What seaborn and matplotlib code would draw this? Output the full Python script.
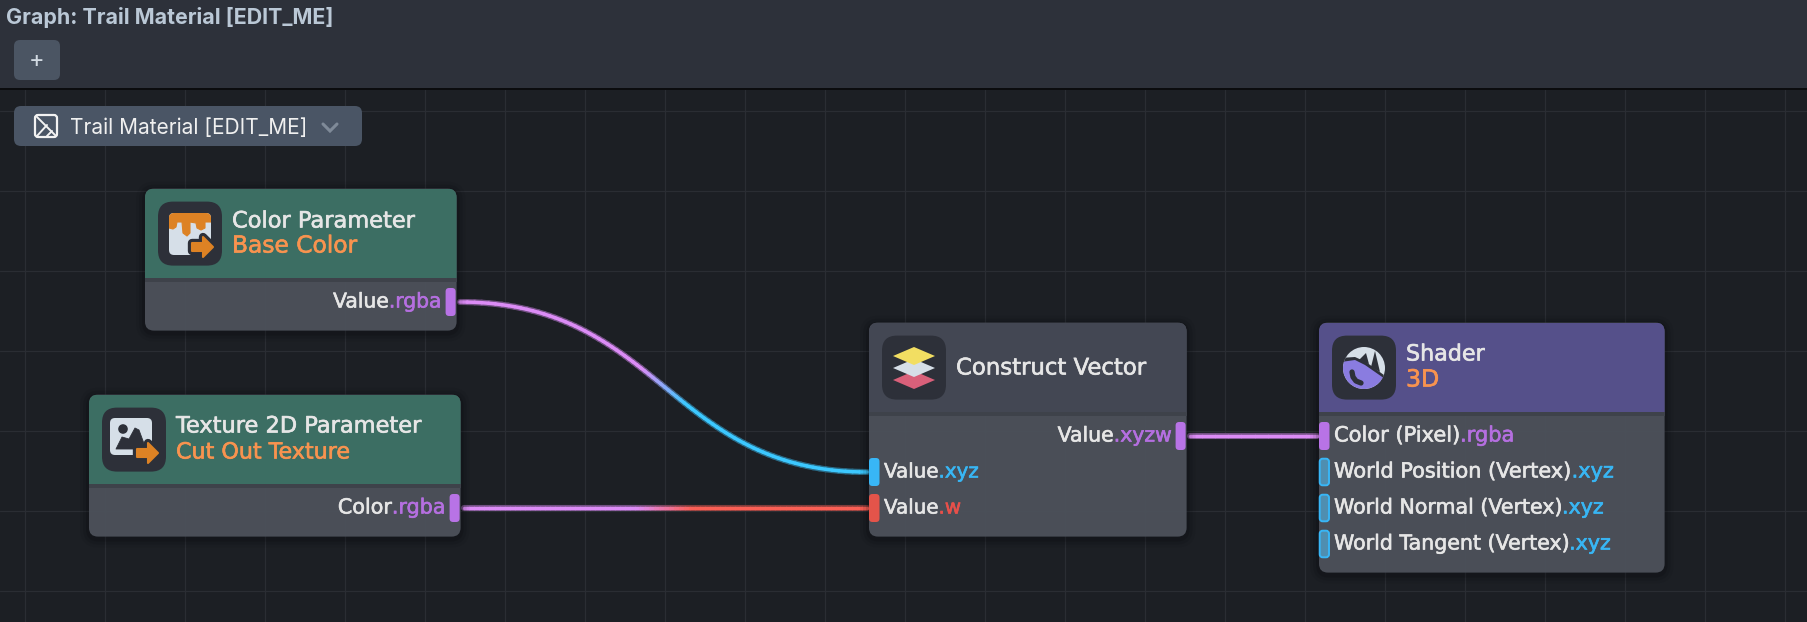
import numpy as np
import pandas as pd
import matplotlib
matplotlib.use("Agg")
import matplotlib.pyplot as plt
import matplotlib.patheffects as pe
import seaborn as sns
from matplotlib.bezier import BezierSegment
from matplotlib.patches import FancyBboxPatch, Rectangle, Polygon, Circle

# text of the graph
GRAPH_TITLE = "Graph: Trail Material [EDIT_ME]"
MATERIAL_NAME = "Trail Material [EDIT_ME]"
NODE_TITLES = ["Color Parameter", "Texture 2D Parameter", "Construct Vector", "Shader"]
NODE_SUBTITLES = ["Base Color", "Cut Out Texture", "", "3D"]
OUTPUT_PORTS = [("Value", ".rgba"), ("Color", ".rgba"), ("Value", ".xyzw"), None]
INPUT_PORTS = [
    [],
    [],
    [("Value", ".xyz"), ("Value", ".w")],
    [("Color (Pixel)", ".rgba"), ("World Position (Vertex)", ".xyz"),
     ("World Normal (Vertex)", ".xyz"), ("World Tangent (Vertex)", ".xyz")],
]

# colours
CANVAS = "#1c1f24"
TOPBAR = "#2d313a"
BODY = "#4c515a"
SEPARATOR = "#3e424a"
ICON_BG = "#2d3039"
LIGHT = "#d6dfe8"
ORANGE = "#dd8224"
SUB_ORANGE = "#f8934f"
PURPLE = "#b873e6"
BLUE = "#38b6f6"
RED = "#e4544a"
TEXT_COL = "#e6e6e6"
SWIZZLE_COL = {".rgba": "#b56fe0", ".xyzw": "#b56fe0", ".xyz": "#38b6f4", ".w": "#e8504a"}
PORT_COL = {".rgba": PURPLE, ".xyzw": PURPLE, ".xyz": BLUE, ".w": RED}
HEADER_COL = ["#3c6e63", "#3c6e63", "#434753", "#55508a"]

# layout in screenshot pixels: left, top, right, bottom, header bottom
NODE_BOXES = [(145, 188.6, 456.6, 330.6, 278), (89, 394.6, 460.6, 536.6, 484),
              (869, 322.6, 1186.6, 536.6, 412), (1319, 322.6, 1664.6, 572.6, 412)]
TITLE_BASE = [227.5, 432.5, 374.5, 360.5]
SUB_BASE = [252.5, 458.5, None, 386.5]
OUT_PORT_Y = [302, 508, 436, None]
IN_PORT_Y = [[], [], [472, 508], [436, 472, 508, 544]]
# the screenshot letter-spaces its labels, so sizes are set per label to keep the widths
TITLE_PT = [16.2, 16.2, 16.4, 16.0]
SUB_PT = [16.8, 16.0, None, 17.0]
OUT_PT = [14.6, 14.9, 14.7, None]
IN_PT = [[], [], [14.3, 14.3], [15.1, 15.0, 14.8, 14.8]]

sns.set_theme(style="dark", rc={
    "axes.facecolor": CANVAS, "figure.facecolor": CANVAS,
    "grid.color": "#2a2d33", "grid.linewidth": 0.9,
    "axes.axisbelow": True, "font.family": ["DejaVu Sans"],
})

fig, ax = plt.subplots(figsize=(18.08, 6.22), dpi=100)
ax.set_position([0, 0, 1, 1])
for side in ax.spines.values():
    side.set_visible(False)


def rounded(x0, y0, x1, y1, r, **kw):
    p = FancyBboxPatch((x0 + r, y0 + r), x1 - x0 - 2 * r, y1 - y0 - 2 * r,
                       boxstyle=f"round,pad={r},rounding_size={r}", linewidth=kw.pop("lw", 0), **kw)
    ax.add_patch(p)
    return p


def text_width(t):
    return t.get_window_extent(fig.canvas.get_renderer()).width


def label(x, y, s, col, size, ha="left"):
    # thin stroke to get the medium weight of the original font
    return ax.text(x, y, s, color=col, fontsize=size, ha=ha, va="baseline", zorder=8,
                   path_effects=[pe.withStroke(linewidth=0.45, foreground=col)])


def draw_wire(ctrl, colours, core_colours, z=2):
    # each little segment gets its own hue level so the colour can run along the wire
    pts = BezierSegment(np.array(ctrl, dtype=float))(np.linspace(0, 1, len(colours) + 1))
    rows = []
    for i in range(len(colours)):
        rows.append((pts[i, 0], pts[i, 1], i))
        rows.append((pts[i + 1, 0], pts[i + 1, 1], i))
    df = pd.DataFrame(rows, columns=["x", "y", "seg"])
    for pal, lw, zz in [(colours, 4.4, z), (core_colours, 2.5, z + 0.1)]:
        sns.lineplot(data=df, x="x", y="y", hue="seg", palette=pal, sort=False, estimator=None,
                     legend=False, linewidth=lw, zorder=zz, ax=ax, solid_capstyle="round")


def wire_palettes(c0, c1, n=80):
    stops0 = [c0] * 4 + [c1] * 4
    core = sns.blend_palette(stops0, n)
    glow = [tuple(v * 0.45 + w * 0.55 for v, w in zip(c, matplotlib.colors.to_rgb(CANVAS))) for c in core]
    return glow, core


# the three connections
glow, core = wire_palettes("#dc8cf6", "#3cc8ff")
draw_wire([(460, 302), (660, 302), (670, 472), (867, 472)], glow, core)
glow, core = wire_palettes("#dc8cf6", "#fb5f55")
draw_wire([(464, 508), (600, 508), (730, 508), (867, 508)], glow, core)
glow, core = wire_palettes("#dc8cf6", "#dc8cf6", 10)
draw_wire([(1190, 436), (1230, 436), (1280, 436), (1317, 436)], glow, core)


def arrow(cx, cy):
    # little orange arrow in the corner of the parameter icons
    pts = [(cx - 11, cy - 4), (cx, cy - 4), (cx, cy - 10), (cx + 10, cy), (cx, cy + 10), (cx, cy + 4), (cx - 11, cy + 4)]
    ax.add_patch(Polygon(pts, closed=True, fc=ICON_BG, ec=ICON_BG, lw=6, joinstyle="round", zorder=7))
    ax.add_patch(Polygon(pts, closed=True, fc=ORANGE, ec=ORANGE, lw=1.5, joinstyle="round", zorder=7.1))


def paint_icon():
    base = rounded(169, 213, 211, 255, 5, fc=LIGHT, zorder=6)
    drips = [(169, 212), (169, 228), (173, 229), (176, 227), (177, 222), (182, 222), (183, 233), (187, 236),
             (190, 233), (190, 222), (196, 223), (197, 228), (201, 230), (205, 228), (205, 222), (212, 222), (212, 212)]
    d = Polygon(drips, closed=True, fc=ORANGE, ec=ORANGE, lw=0.8, joinstyle="round", zorder=6.2)
    ax.add_patch(d)
    d.set_clip_path(base)
    arrow(203, 247)


def image_icon():
    rounded(110, 418, 152, 455, 5, fc=LIGHT, zorder=6)
    ax.add_patch(Circle((123, 429), 4.8, fc=ICON_BG, lw=0, zorder=6.2))
    peak = [(116, 449), (122, 437), (129, 439), (135, 428), (139, 430), (146, 449)]
    ax.add_patch(Polygon(peak, closed=True, fc=ICON_BG, ec=ICON_BG, lw=0.6, joinstyle="round", zorder=6.2))
    arrow(148, 453)


def stack_icon():
    for cy, col, z in [(380, "#d9607a", 6.1), (368, LIGHT, 6.2), (356, "#f2de62", 6.3)]:
        ax.add_patch(Polygon([(893, cy), (914, cy - 9), (935, cy), (914, cy + 9)], closed=True, fc=col, lw=0, zorder=z))


def shader_icon():
    disc = Circle((1364, 368), 21, fc=LIGHT, lw=0, zorder=6)
    ax.add_patch(disc)
    for teeth in [[(1358, 361), (1366, 353), (1369, 364)], [(1371, 367), (1375, 351), (1380, 372)]]:
        t = Polygon(teeth, closed=True, fc=ICON_BG, lw=0, zorder=6.1)
        ax.add_patch(t)
        t.set_clip_path(disc)
    band = Polygon([(1340, 358), (1355, 357), (1366, 362), (1388, 378), (1388, 382), (1340, 362)], closed=True, fc=ICON_BG, lw=0, zorder=6.15)
    ax.add_patch(band)
    band.set_clip_path(disc)
    belly = Polygon([(1341, 362), (1355, 360), (1365, 365), (1388, 381), (1388, 394), (1340, 394)], closed=True, fc="#8a7ce0", lw=0, zorder=6.2)
    ax.add_patch(belly)
    belly.set_clip_path(disc)
    ax.plot([1352, 1353, 1356, 1361], [372, 377, 381, 383], color=ICON_BG, lw=3.8, solid_capstyle="round", zorder=6.3)


ICONS = [paint_icon, image_icon, stack_icon, shader_icon]


def port_label(x, base, name, swizzle, size, right=False):
    col = SWIZZLE_COL[swizzle]
    if right:
        t = label(x, base, swizzle, col, size, ha="right")
        label(x - text_width(t), base, name, TEXT_COL, size, ha="right")
    else:
        t = label(x, base, name, TEXT_COL, size)
        label(x + text_width(t), base, swizzle, col, size)


# nodes
for i, (x0, y0, x1, y1, yh) in enumerate(NODE_BOXES):
    for grow, alpha in [(9, 0.05), (6, 0.08), (3, 0.12)]:
        rounded(x0 - grow, y0 - grow + 2, x1 + grow, y1 + grow + 2, 10 + grow, fc="black", alpha=alpha, zorder=3)
    shape = rounded(x0, y0, x1, y1, 9, fc=BODY, alpha=0.97, zorder=4)
    h = Rectangle((x0, y0), x1 - x0, yh - y0, fc=HEADER_COL[i], lw=0, zorder=4.2)
    ax.add_patch(h)
    h.set_clip_path(shape)
    ax.add_patch(Rectangle((x0, yh), x1 - x0, 4, fc=SEPARATOR, lw=0, zorder=4.3))
    rounded(x0 + 13, y0 + 13, x0 + 77, y0 + 77, 15, fc=ICON_BG, zorder=5)
    ICONS[i]()
    label(x0 + 87, TITLE_BASE[i], NODE_TITLES[i], TEXT_COL, TITLE_PT[i])
    if NODE_SUBTITLES[i]:
        label(x0 + 87, SUB_BASE[i], NODE_SUBTITLES[i], SUB_ORANGE, SUB_PT[i])
    if OUTPUT_PORTS[i]:
        name, sw = OUTPUT_PORTS[i]
        py = OUT_PORT_Y[i]
        rounded(x1 - 11, py - 14, x1 - 1, py + 14, 3.5, fc=PORT_COL[sw], zorder=6)
        port_label(x1 - 15, py + 5.5, name, sw, OUT_PT[i], right=True)
    for (name, sw), py, size in zip(INPUT_PORTS[i], IN_PORT_Y[i], IN_PT[i]):
        # unconnected inputs are drawn hollow
        connected = not (i == 3 and py != 436)
        if connected:
            rounded(x0, py - 14, x0 + 10.5, py + 14, 3.5, fc=PORT_COL[sw], zorder=6)
        else:
            rounded(x0 + 0.7, py - 13.3, x0 + 10, py + 13.3, 3, fc="#4f8eb0", ec=BLUE, lw=1.4, zorder=6)
        port_label(x0 + 15, py + 5.5, name, sw, size)

# toolbar along the top
ax.add_patch(Rectangle((0, 0), 1808, 88, fc=TOPBAR, lw=0, zorder=9))
ax.add_patch(Rectangle((0, 88), 1808, 2, fc="#0b0c0e", lw=0, zorder=9))
ax.text(6, 23.5, GRAPH_TITLE, color="#bac8d6", fontsize=15.4, fontweight="bold", family="Inter", va="baseline", zorder=10)
rounded(14, 40, 60, 80, 6, fc="#4b5563", zorder=10)
ax.text(37, 61, "+", color="#d2dae2", fontsize=17, family="Inter", ha="center", va="center", zorder=11)

# material dropdown
rounded(14, 106, 362, 146, 7, fc="#4a5565", zorder=10)
rounded(35, 115, 57, 137, 3, fc="none", ec="#f2f2f2", lw=1.6, zorder=11)
ax.plot([36, 56], [116, 136], color="#f2f2f2", lw=1.4, zorder=11)
ax.plot([37, 47], [136, 125], color="#f2f2f2", lw=1.4, zorder=11)
ax.plot([47, 52], [136, 131], color="#f2f2f2", lw=1.4, zorder=11)
ax.text(70, 134, MATERIAL_NAME, color="#f0f0f0", fontsize=15, family="Inter", va="baseline", zorder=11)
ax.plot([323, 330, 337], [124, 131, 124], color="#7f8a98", lw=2.2, solid_joinstyle="miter", zorder=11)

ax.set_xticks(np.arange(25, 1808, 80))
ax.set_yticks(np.arange(111, 622, 80))
ax.grid(True)
ax.tick_params(length=0, labelbottom=False, labelleft=False)
ax.set(xlim=(0, 1808), ylim=(622, 0), xlabel="", ylabel="")

fig.savefig("out.png", dpi=100, facecolor=CANVAS)
